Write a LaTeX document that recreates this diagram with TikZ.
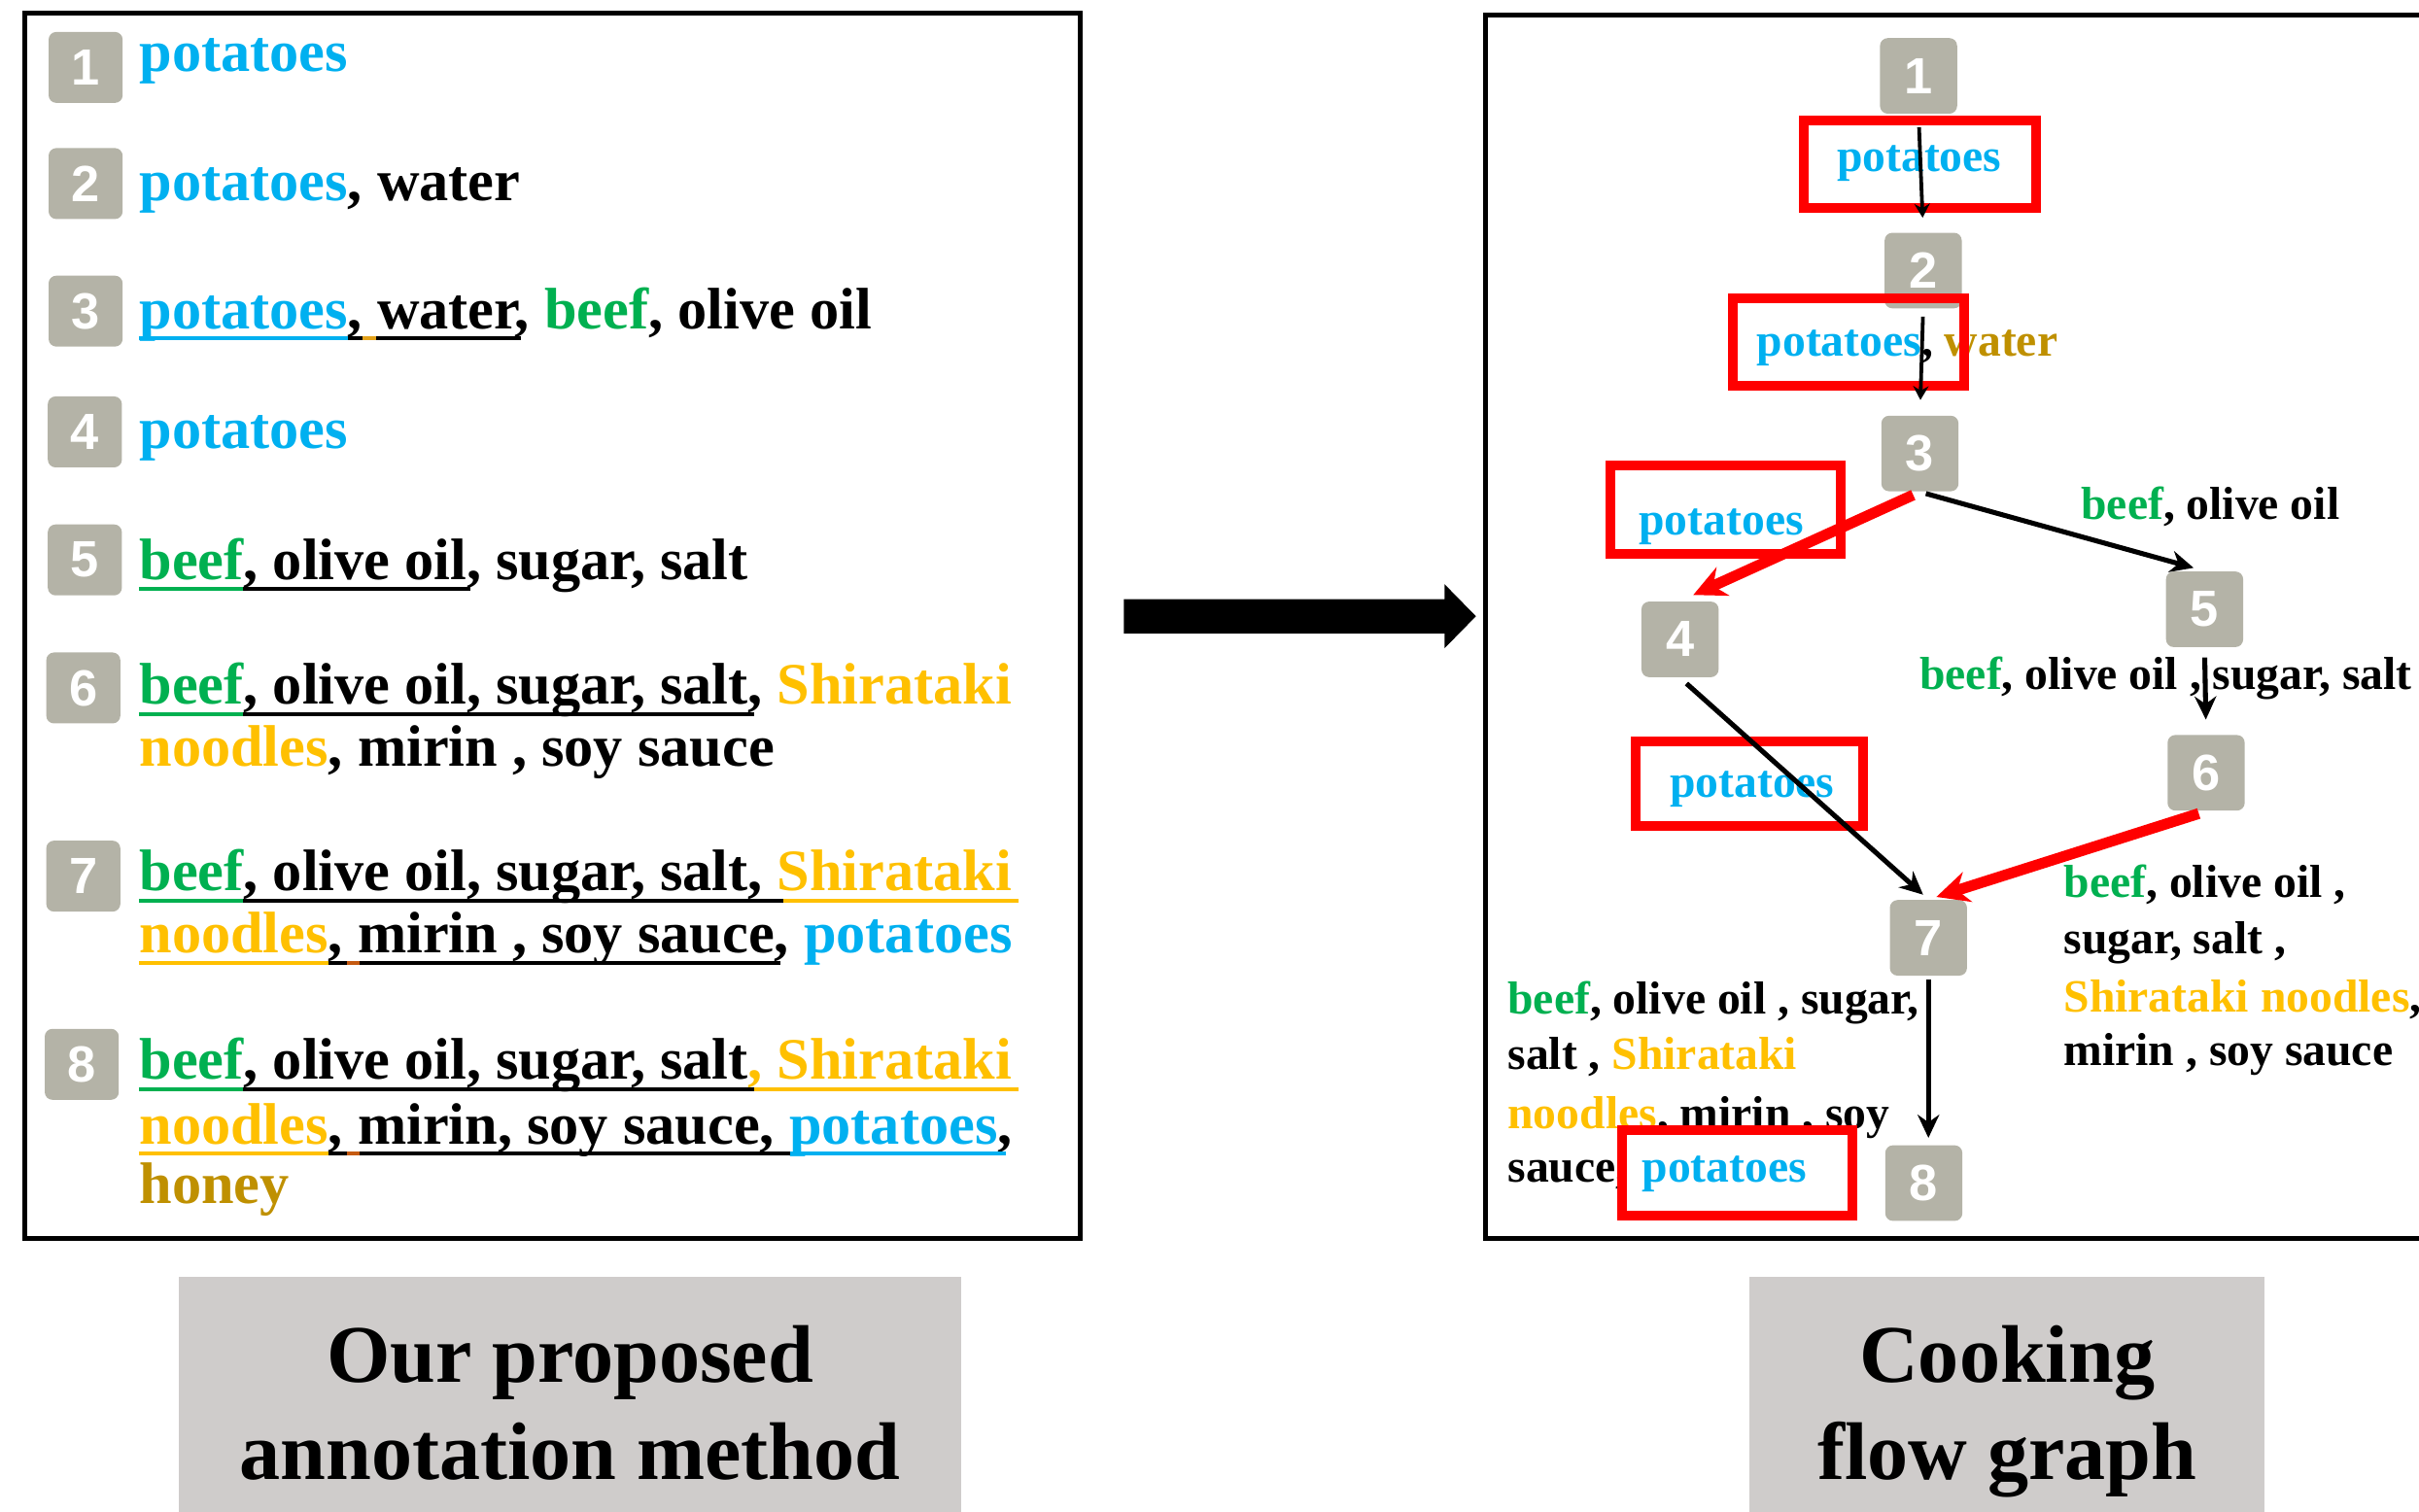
\documentclass[tikz,border=0pt]{standalone}
\usepackage{fontspec}
\setmainfont{Liberation Serif}
\newfontfamily\badgefamily{Liberation Sans}
\usetikzlibrary{arrows.meta}

\definecolor{potblue}{HTML}{00B0F0}
\definecolor{beefgreen}{HTML}{00B050}
\definecolor{noodleyellow}{HTML}{FFC000}
\definecolor{honeygold}{HTML}{BF9000}
\definecolor{markorange}{HTML}{E3A21A}
\definecolor{markrust}{HTML}{C55A11}
\definecolor{badgegrey}{RGB}{180,179,167}
\definecolor{labelgrey}{RGB}{207,204,203}
\definecolor{boxred}{HTML}{FF0000}

\newcommand\ListFont{\bfseries\fontsize{19pt}{23pt}\selectfont}
\newcommand\GraphFont{\bfseries\fontsize{15pt}{18pt}\selectfont}
\newcommand\CaptionFont{\bfseries\fontsize{26.5pt}{32pt}\selectfont}
\newcommand\BadgeFont{\badgefamily\bfseries\fontsize{16.5pt}{16.5pt}\selectfont}
\newcommand\Pot{\textcolor{potblue}{potatoes}}
\newcommand\Beef{\textcolor{beefgreen}{beef}}
\newcommand\Yel[1]{\textcolor{noodleyellow}{#1}}
\newcommand\Gold[1]{\textcolor{honeygold}{#1}}

\begin{document}
\begin{tikzpicture}[x=0.5pt,y=-0.5pt,
  badge/.style={fill=badgegrey, rounded corners=2.5pt, minimum width=24pt,
    minimum height=23pt, inner sep=0pt, text=white, font=\BadgeFont},
  gbadge/.style={badge, minimum width=25pt, minimum height=24.5pt},
  listline/.style={anchor=base west, inner sep=0pt, font=\ListFont},
  graphline/.style={anchor=base west, inner sep=0pt, font=\GraphFont},
  caption/.style={anchor=base, inner sep=0pt, font=\CaptionFont},
  panel/.style={draw=black, line width=1.5pt},
  redbox/.style={draw=boxred, line width=3.15pt},
  uline/.style={line width=1.25pt},
  thinflow/.style={line width=1.2pt, -{Stealth[length=4.5pt,width=5pt]}},
  flow/.style={line width=1.6pt, -{Stealth[length=7.5pt,width=7pt]}},
  redflow/.style={draw=boxred, line width=3.5pt, -{Stealth[length=10.5pt,width=10pt]}},
]
\useasboundingbox (0,0) rectangle (1568,980);
\clip (0,0) rectangle (1568,980);

% ---------- left panel: annotated ingredient lists ----------
\draw[panel] (16.2,8.5) rectangle (700,803);

\node[badge] (b1) at (55.5,43.7) {1};
\node[badge] (b2) at (55.5,119) {2};
\node[badge] (b3) at (55.5,201.7) {3};
\node[badge] (b4) at (55,280) {4};
\node[badge] (b5) at (55,363) {5};
\node[badge] (b6) at (54,446) {6};
\node[badge] (b7) at (54,568) {7};
\node[badge] (b8) at (53,690) {8};

\node[listline] (t1) at (90,46.2) {\Pot};
\node[listline] (t2) at (90,130.2) {\Pot, water};
\node[listline] (t3) at (90,213) {\Pot, water, \Beef, olive oil};
\node[listline] (t4) at (90,291) {\Pot};
\node[listline] (t5) at (90,375.6) {\Beef, olive oil, sugar, salt};
\node[listline] (t6a) at (90,456.6) {\Beef, olive oil, sugar, salt, \Yel{Shirataki}};
\node[listline] (t6b) at (90,497) {\Yel{noodles}, mirin , soy sauce};
\node[listline] (t7a) at (90,577.6) {\Beef, olive oil, sugar, salt, \Yel{Shirataki}};
\node[listline] (t7b) at (90,617.5) {\Yel{noodles}, mirin , soy sauce, \Pot};
\node[listline] (t8a) at (90,699.6) {\Beef, olive oil, sugar, salt\Yel{, Shirataki}};
\node[listline] (t8b) at (90,741.6) {\Yel{noodles}, mirin, soy sauce, \Pot,};
\node[listline] (t8c) at (90,780) {\Gold{honey}};

% underlines marking carried-over ingredients
\draw[uline, potblue] (90,219.4) -- (225.4,219.4);
\draw[uline] (225.4,219.4) -- (235,219.4);
\draw[uline, markorange] (235,219.4) -- (244,219.4);
\draw[uline] (244,219.4) -- (337.5,219.4);

\draw[uline, beefgreen] (90,382) -- (157.7,382);
\draw[uline] (157.7,382) -- (305,382);

\draw[uline, beefgreen] (90,463) -- (157.7,463);
\draw[uline] (157.7,463) -- (489,463);

\draw[uline, beefgreen] (90,584) -- (157.7,584);
\draw[uline] (157.7,584) -- (508,584);
\draw[uline, noodleyellow] (508,584) -- (660.5,584);
\draw[uline, noodleyellow] (90,624) -- (212.8,624);
\draw[uline] (212.8,624) -- (225,624);
\draw[uline, markrust] (225,624) -- (233,624);
\draw[uline] (233,624) -- (506,624);

\draw[uline, beefgreen] (90,706) -- (157.7,706);
\draw[uline] (157.7,706) -- (489,706);
\draw[uline, noodleyellow] (489,706) -- (660.5,706);
\draw[uline, noodleyellow] (90,748) -- (212.8,748);
\draw[uline] (212.8,748) -- (225,748);
\draw[uline, markrust] (225,748) -- (233,748);
\draw[uline] (233,748) -- (512.3,748);
\draw[uline, potblue] (512.3,748) -- (652,748);

% ---------- transition arrow ----------
\fill (728.4,388.5) -- (936.3,388.5) -- (936.3,378.7) -- (956.7,399.5)
  -- (936.3,420.3) -- (936.3,410.6) -- (728.4,410.6) -- cycle;

% ---------- right panel: cooking flow graph ----------
\draw[panel] (963,10) rectangle (1600,803);

\node[gbadge] (g1) at (1243.6,49.2) {1};
\node[gbadge] (g2) at (1246.6,175.4) {2};
\node[gbadge] (g3) at (1244.5,294) {3};
\node[gbadge] (g4) at (1089,414.5) {4};
\node[gbadge] (g5) at (1429,395) {5};
\node[gbadge] (g6) at (1430,501) {6};
\node[gbadge] (g7) at (1250,608) {7};
\node[gbadge] (g8) at (1247,767) {8};

\node[graphline, anchor=base] (p1) at (1244,111.3) {\Pot};
\node[graphline] (p2) at (1138.4,231) {\Pot, \Gold{water}};
\node[graphline] (p3) at (1062,347) {\Pot};
\node[graphline] (e35) at (1348.6,337) {\Beef, olive oil};
\node[graphline] (e56) at (1244,447) {\Beef, olive oil , sugar, salt};
\node[graphline] (p4) at (1082,517) {\Pot};

\node[graphline] (r1) at (1337.4,582) {\Beef, olive oil ,};
\node[graphline] (r2) at (1337.4,618) {sugar, salt ,};
\node[graphline] (r3) at (1337.4,656) {\Yel{Shirataki noodles},};
\node[graphline] (r4) at (1337.4,691) {mirin , soy sauce};

\node[graphline] (l1) at (977,657.5) {\Beef, olive oil , sugar,};
\node[graphline] (l2) at (977,693) {salt , \Yel{Shirataki}};
\node[graphline] (l3) at (977,731.5) {\Yel{noodles}, mirin , soy};
\node[graphline] (l4) at (977,766.5) {sauce,};

% highlighted ingredient sets
\draw[redbox] (1169.2,77.8) rectangle (1319.8,134.8);
\draw[redbox] (1123,193.7) rectangle (1273,250.1);
\draw[redbox] (1043.6,302) rectangle (1193.4,358.8);
\draw[redbox] (1060.3,480.5) rectangle (1207.7,535.7);
\filldraw[redbox, fill=white] (1051.5,732.5) rectangle (1200.5,788);
\node[graphline] (p8) at (1064,766.5) {\Pot};

% flow edges
\draw[thinflow, shorten <=4.2pt, shorten >=4.7pt] (g1.south) -- (g2.north);
\draw[thinflow, shorten <=2.5pt, shorten >=4.9pt] (g2.south) -- (g3.north);
\draw[redflow, shorten <=2.4pt, shorten >=4.7pt] (g3.south) -- (g4.north);
\draw[flow, shorten <=2pt, shorten >=3.7pt] (g3.south) -- (g5.north);
\draw[flow, shorten <=3.2pt, shorten >=4.8pt] (g5.south) -- (g6.north);
\draw[flow, shorten <=2.8pt, shorten >=2.3pt] (g4.south) -- (g7.north);
\draw[redflow, shorten <=2.5pt, shorten >=2.7pt] (g6.south) -- (g7.north);
\draw[flow, shorten <=1.2pt, shorten >=2.2pt] (g7.south) -- (g7.south |- g8.north);

% ---------- captions ----------
\fill[labelgrey] (116,827.5) rectangle (623,990);
\node[caption] (capL1) at (369.5,896) {Our proposed};
\node[caption] (capL2) at (369.5,959) {annotation method};
\fill[labelgrey] (1134,827.5) rectangle (1468,990);
\node[caption] (capR1) at (1301,896) {Cooking};
\node[caption] (capR2) at (1301,959) {flow graph};
\end{tikzpicture}
\end{document}
